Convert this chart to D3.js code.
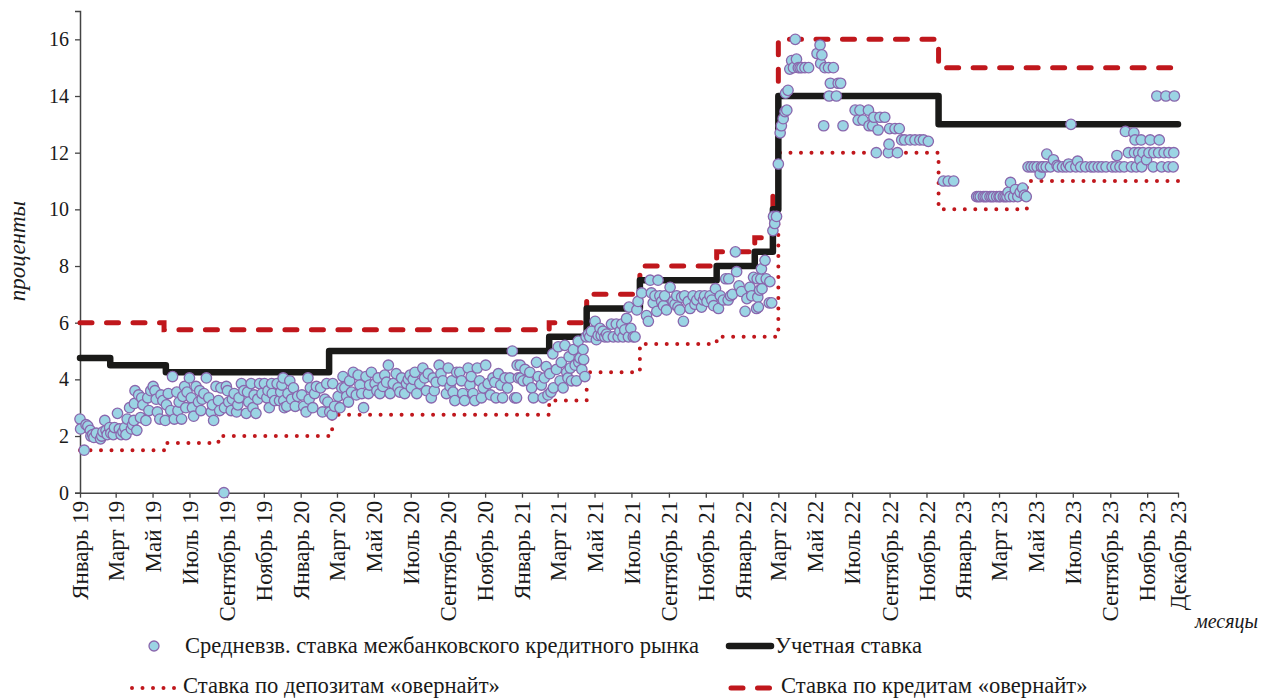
<!DOCTYPE html>
<html>
<head>
<meta charset="utf-8">
<script src="https://cdn.jsdelivr.net/npm/d3@7/dist/d3.min.js"></script>
<style>
  body { margin: 0; background: #fff; }
  text { font-family: "Liberation Serif", "Times New Roman", serif; fill: #1a1a1a; }
</style>
</head>
<body>
<script>
// --- data ---
var tickDates = ["2019-01-01","2019-03-01","2019-05-01","2019-07-01","2019-09-01","2019-11-01",
  "2020-01-01","2020-03-01","2020-05-01","2020-07-01","2020-09-01","2020-11-01",
  "2021-01-01","2021-03-01","2021-05-01","2021-07-01","2021-09-01","2021-11-01",
  "2022-01-01","2022-03-01","2022-05-01","2022-07-01","2022-09-01","2022-11-01",
  "2023-01-01","2023-03-01","2023-05-01","2023-07-01","2023-09-01","2023-11-01","2023-12-22"];
var tickLabels = ["Январь 19","Март 19","Май 19","Июль 19","Сентябрь 19","Ноябрь 19",
  "Январь 20","Март 20","Май 20","Июль 20","Сентябрь 20","Ноябрь 20",
  "Январь 21","Март 21","Май 21","Июль 21","Сентябрь 21","Ноябрь 21",
  "Январь 22","Март 22","Май 22","Июль 22","Сентябрь 22","Ноябрь 22",
  "Январь 23","Март 23","Май 23","Июль 23","Сентябрь 23","Ноябрь 23","Декабрь 23"];
var yTicks = [0, 2, 4, 6, 8, 10, 12, 14, 16];
var startDate = "2019-01-01", endDate = "2023-12-22";

// step series: [date of change, value]
var discountRate = [["2019-01-01",4.75],["2019-02-20",4.5],["2019-05-23",4.25],["2020-02-17",5.0],
  ["2021-02-15",5.5],["2021-04-18",6.5],["2021-07-15",7.5],["2021-11-19",8.0],["2022-01-21",8.5],
  ["2022-02-20",10.0],["2022-03-01",14.0],["2022-11-21",13.0]];
var depositRate = [["2019-01-01",1.5],["2019-05-20",1.75],["2019-08-18",2.0],["2020-02-22",2.75],
  ["2021-02-15",3.25],["2021-04-18",4.25],["2021-07-15",5.25],["2021-11-19",5.5],["2022-03-01",12.0],
  ["2022-11-21",10.0],["2023-04-16",11.0]];
var creditRate = [["2019-01-01",6.0],["2019-05-20",5.75],["2021-02-15",6.0],["2021-04-18",7.0],
  ["2021-07-15",8.0],["2021-11-19",8.5],["2022-01-21",9.0],["2022-02-20",10.5],["2022-03-01",16.0],
  ["2022-11-21",15.0]];

// interbank weighted average rate: [date, value]
var rates2019 = [["2019-01-01",2.6],["2019-01-02",2.25],["2019-01-08",1.5],["2019-01-11",2.4],["2019-01-14",2.35],
  ["2019-01-18",2.2],["2019-01-19",2.0],["2019-01-22",2.05],["2019-01-24",1.95],["2019-01-28",2.1],
  ["2019-02-04",1.9],["2019-02-06",2.0],["2019-02-08",2.15],["2019-02-11",2.55],["2019-02-13",2.2],["2019-02-15",2.05],
  ["2019-02-19",2.3],["2019-02-21",2.1],["2019-02-25",2.05],["2019-02-27",2.3],["2019-03-04",2.8],["2019-03-07",2.25],
  ["2019-03-10",2.05],["2019-03-13",2.15],["2019-03-16",2.3],["2019-03-18",2.05],["2019-03-20",2.6],["2019-03-24",3.0],
  ["2019-03-27",2.25],["2019-03-29",2.4],["2019-03-31",2.55],
  ["2019-04-01",3.15],["2019-04-02",3.6],["2019-04-05",2.2],["2019-04-08",3.45],["2019-04-11",2.65],["2019-04-13",3.35],
  ["2019-04-15",3.1],["2019-04-20",2.55],["2019-04-23",3.35],["2019-04-25",2.9],["2019-04-28",3.6],["2019-05-02",3.75],
  ["2019-05-05",3.6],["2019-05-07",3.3],["2019-05-09",2.85],["2019-05-13",2.6],["2019-05-15",3.45],["2019-05-18",3.25],
  ["2019-05-22",2.55],["2019-05-24",3.1],["2019-05-27",3.5],["2019-05-31",2.9],
  ["2019-06-03",4.1],["2019-06-06",2.6],["2019-06-10",3.55],["2019-06-12",2.9],["2019-06-14",3.2],["2019-06-18",2.6],
  ["2019-06-20",3.4],["2019-06-23",3.75],["2019-06-25",3.0],["2019-06-27",3.55],["2019-07-01",4.05],["2019-07-04",3.35],
  ["2019-07-06",3.0],["2019-07-08",2.7],["2019-07-12",3.75],["2019-07-16",3.2],["2019-07-18",3.6],["2019-07-20",2.9],
  ["2019-07-22",3.3],["2019-07-25",3.5],["2019-07-29",4.05],
  ["2019-08-02",3.35],["2019-08-06",2.85],["2019-08-08",3.1],["2019-08-10",2.55],["2019-08-14",3.75],["2019-08-18",3.25],
  ["2019-08-20",2.9],["2019-08-22",3.7],["2019-08-27",0],["2019-08-28",3.0],["2019-08-31",3.75],["2019-09-02",3.6],
  ["2019-09-04",3.2],["2019-09-08",2.9],["2019-09-10",3.3],["2019-09-13",3.5],["2019-09-17",2.85],["2019-09-19",3.1],
  ["2019-09-21",3.35],["2019-09-25",3.85],["2019-09-29",3.6],
  ["2019-10-03",2.8],["2019-10-05",3.55],["2019-10-07",3.2],["2019-10-11",3.85],["2019-10-14",3.0],["2019-10-16",3.45],
  ["2019-10-19",2.8],["2019-10-22",3.3],["2019-10-25",3.85],["2019-10-29",3.5],["2019-11-02",3.85],["2019-11-06",3.35],
  ["2019-11-08",3.6],["2019-11-10",3.0],["2019-11-14",3.85],["2019-11-15",3.5],["2019-11-19",3.25],["2019-11-23",3.85],
  ["2019-11-27",3.25],["2019-11-29",3.55],["2019-12-01",3.8],["2019-12-03",4.05],["2019-12-04",3.25],["2019-12-05",3.0],
  ["2019-12-09",3.05],["2019-12-11",3.5],["2019-12-14",3.95],["2019-12-17",3.3],["2019-12-20",3.7],["2019-12-23",3.05],
  ["2019-12-27",3.4]];
var rates2020 = [["2020-01-03",3.45],["2020-01-06",3.05],["2020-01-10",2.85],["2020-01-13",4.05],["2020-01-15",3.3],
  ["2020-01-17",3.7],["2020-01-21",3.0],["2020-01-24",3.5],["2020-01-27",3.75],["2020-02-03",3.7],["2020-02-06",2.85],
  ["2020-02-10",3.3],["2020-02-13",3.85],["2020-02-15",3.2],["2020-02-18",2.85],["2020-02-22",2.75],["2020-02-23",3.85],
  ["2020-02-26",3.05],["2020-03-03",3.4],["2020-03-06",3.0],["2020-03-09",3.7],["2020-03-11",4.1],["2020-03-14",3.7],
  ["2020-03-17",3.4],["2020-03-20",3.2],["2020-03-22",3.95],["2020-03-25",3.55],["2020-03-28",4.25],
  ["2020-04-02",3.45],["2020-04-05",4.15],["2020-04-08",3.8],["2020-04-11",3.5],["2020-04-14",3.0],["2020-04-18",4.1],
  ["2020-04-22",3.5],["2020-04-24",3.8],["2020-04-27",4.25],["2020-05-03",3.85],["2020-05-06",3.6],["2020-05-08",4.05],
  ["2020-05-11",3.5],["2020-05-16",3.75],["2020-05-19",4.15],["2020-05-22",3.9],["2020-05-25",4.5],["2020-05-28",3.5],
  ["2020-06-02",3.85],["2020-06-07",4.2],["2020-06-10",3.7],["2020-06-13",3.55],["2020-06-16",4.05],["2020-06-21",3.5],
  ["2020-06-24",3.85],["2020-06-27",4.0],["2020-06-30",4.15],["2020-07-02",3.7],["2020-07-05",4.0],["2020-07-08",4.25],
  ["2020-07-11",3.5],["2020-07-16",3.85],["2020-07-21",4.4],["2020-07-24",4.05],["2020-07-27",3.6],["2020-07-30",4.2],
  ["2020-08-04",3.35],["2020-08-07",4.05],["2020-08-09",3.6],["2020-08-12",3.9],["2020-08-17",4.5],["2020-08-20",4.2],
  ["2020-08-23",3.95],["2020-08-29",3.5],["2020-09-01",4.4],["2020-09-04",3.75],["2020-09-07",3.95],["2020-09-09",3.55],
  ["2020-09-12",3.25],["2020-09-15",4.25],["2020-09-20",4.25],["2020-09-23",3.95],["2020-09-25",3.5],["2020-09-28",3.25],
  ["2020-10-04",4.4],["2020-10-07",3.8],["2020-10-09",4.1],["2020-10-12",3.5],["2020-10-15",3.25],["2020-10-19",4.4],
  ["2020-10-23",3.95],["2020-10-26",3.35],["2020-10-29",3.7],["2020-11-02",4.5],["2020-11-06",3.85],["2020-11-10",3.45],
  ["2020-11-14",4.05],["2020-11-17",3.9],["2020-11-19",3.35],["2020-11-23",4.2],["2020-11-27",3.8],["2020-11-30",3.35],
  ["2020-12-04",4.05],["2020-12-08",3.7],["2020-12-12",4.05],["2020-12-16",5.0],["2020-12-20",3.35],["2020-12-23",3.35],
  ["2020-12-24",4.5],["2020-12-26",4.05],["2020-12-29",4.5],["2020-12-30",4.05]];
var rates2021 = [["2021-01-03",3.95],["2021-01-06",4.35],["2021-01-11",3.95],["2021-01-14",4.25],["2021-01-17",3.7],
  ["2021-01-20",3.35],["2021-01-25",4.6],["2021-01-28",4.1],["2021-02-02",3.8],["2021-02-05",3.35],["2021-02-07",4.05],
  ["2021-02-10",4.45],["2021-02-13",3.45],["2021-02-16",4.2],["2021-02-18",3.55],["2021-02-21",4.9],["2021-02-22",3.7],
  ["2021-02-27",4.35],["2021-03-02",5.15],["2021-03-05",3.95],["2021-03-07",4.6],["2021-03-10",3.7],["2021-03-13",5.2],
  ["2021-03-16",4.25],["2021-03-18",4.05],["2021-03-20",4.8],["2021-03-22",4.4],["2021-03-24",3.95],["2021-03-27",5.05],
  ["2021-03-30",4.5],["2021-04-01",3.95],["2021-04-04",5.35],["2021-04-05",4.6],["2021-04-07",4.75],["2021-04-10",4.35],
  ["2021-04-12",5.05],["2021-04-13",4.7],["2021-04-15",4.1],["2021-04-17",5.5],["2021-04-21",5.6],["2021-04-23",5.5],
  ["2021-04-26",5.7],["2021-05-02",6.05],["2021-05-04",5.4],["2021-05-07",5.55],["2021-05-10",5.8],["2021-05-12",5.55],
  ["2021-05-15",5.7],["2021-05-18",5.5],["2021-05-21",5.6],["2021-05-23",5.5],["2021-05-29",5.95],
  ["2021-06-01",5.5],["2021-06-06",5.95],["2021-06-09",5.5],["2021-06-12",5.7],["2021-06-15",5.95],["2021-06-17",5.5],
  ["2021-06-20",5.75],["2021-06-23",6.15],["2021-06-26",5.5],["2021-06-27",6.55],["2021-06-30",5.8],["2021-07-04",5.5],
  ["2021-07-07",5.5],["2021-07-10",6.45],["2021-07-12",6.75],["2021-07-18",7.05],["2021-07-26",6.25],["2021-07-29",6.05],
  ["2021-08-01",7.5],["2021-08-03",7.05],["2021-08-06",6.7],["2021-08-09",6.95],["2021-08-12",6.4],["2021-08-14",7.5],
  ["2021-08-17",6.95],["2021-08-20",6.75],["2021-08-23",6.6],["2021-08-25",6.95],["2021-08-28",6.45],["2021-09-03",7.25],
  ["2021-09-08",6.75],["2021-09-11",6.65],["2021-09-14",6.95],["2021-09-16",6.55],["2021-09-19",6.45],["2021-09-22",6.9],
  ["2021-09-25",6.05],["2021-09-27",6.95],["2021-10-03",6.75],["2021-10-06",6.5],["2021-10-11",6.95],["2021-10-14",6.65],
  ["2021-10-17",6.8],["2021-10-22",6.95],["2021-10-25",6.55],["2021-10-28",6.8],["2021-10-30",6.95],["2021-11-03",6.75],
  ["2021-11-08",6.95],["2021-11-11",6.8],["2021-11-14",6.6],["2021-11-17",7.2],["2021-11-22",6.5],["2021-11-25",6.95],
  ["2021-11-30",6.8],["2021-12-04",7.55],["2021-12-08",6.8],["2021-12-09",7.55],["2021-12-12",6.95],["2021-12-15",7.0],
  ["2021-12-20",8.5],["2021-12-22",7.8],["2021-12-26",7.3],["2021-12-30",7.1]];
var rates2022 = [["2022-01-05",6.4],["2022-01-08",6.85],["2022-01-13",7.25],["2022-01-16",6.95],["2022-01-19",7.6],
  ["2022-01-24",6.5],["2022-01-25",7.55],["2022-01-26",6.9],["2022-01-27",6.55],["2022-01-29",7.15],["2022-01-31",7.55],
  ["2022-02-01",7.9],["2022-02-02",7.2],["2022-02-07",8.2],["2022-02-09",7.55],["2022-02-14",6.7],["2022-02-15",7.45],
  ["2022-02-18",6.7],["2022-02-20",9.25],["2022-02-21",9.75],["2022-02-23",9.5],["2022-02-26",9.75],["2022-03-01",11.6],
  ["2022-03-04",12.7],["2022-03-06",12.95],["2022-03-09",13.2],["2022-03-12",13.45],["2022-03-13",14.1],["2022-03-15",13.5],
  ["2022-03-17",14.2],["2022-03-20",14.95],["2022-03-23",15.25],["2022-03-26",15.0],["2022-03-29",16.0],["2022-03-31",15.3],
  ["2022-04-03",15.0],["2022-04-06",15.0],["2022-04-09",15.0],["2022-04-14",15.0],["2022-04-20",15.0],["2022-05-04",15.5],
  ["2022-05-09",15.8],["2022-05-10",15.15],["2022-05-12",15.45],["2022-05-15",12.95],["2022-05-17",15.0],["2022-05-23",15.0],
  ["2022-05-24",14.0],["2022-05-26",14.45],["2022-05-31",15.0],["2022-06-05",14.0],["2022-06-08",14.45],["2022-06-12",14.45],
  ["2022-06-16",12.95],["2022-07-06",13.5],["2022-07-11",13.15],["2022-07-14",13.5],["2022-07-19",13.15],["2022-07-28",13.5],
  ["2022-07-29",12.95],["2022-08-04",12.95],["2022-08-06",13.25],["2022-08-10",12.0],["2022-08-13",12.8],["2022-08-16",13.25],
  ["2022-08-24",13.25],["2022-08-30",12.0],["2022-08-31",12.3],["2022-09-01",12.85],["2022-09-10",12.85],["2022-09-14",12.0],
  ["2022-09-17",12.85],["2022-09-21",12.45],["2022-09-26",12.45],["2022-10-05",12.45],["2022-10-13",12.45],["2022-10-21",12.45],
  ["2022-10-27",12.45],["2022-11-04",12.4],["2022-11-29",11.0],["2022-12-07",11.0],["2022-12-16",11.0]];
var rates2023 = [["2023-01-23",10.45],["2023-01-26",10.45],["2023-01-29",10.45],["2023-02-03",10.45],["2023-02-06",10.45],
  ["2023-02-09",10.45],["2023-02-14",10.45],["2023-02-17",10.45],["2023-02-20",10.45],["2023-02-25",10.45],["2023-03-01",10.45],
  ["2023-03-03",10.45],["2023-03-08",10.45],["2023-03-11",10.45],["2023-03-14",10.45],["2023-03-16",10.6],["2023-03-19",10.45],
  ["2023-03-20",10.95],["2023-03-25",10.45],["2023-03-28",10.7],["2023-04-01",10.45],["2023-04-05",10.6],["2023-04-09",10.75],
  ["2023-04-12",10.5],["2023-04-15",10.45],["2023-04-18",11.5],["2023-04-23",11.5],["2023-04-28",11.5],["2023-05-03",11.5],
  ["2023-05-08",11.25],["2023-05-10",11.5],["2023-05-13",11.5],["2023-05-18",11.5],["2023-05-19",11.95],["2023-05-25",11.5],
  ["2023-05-30",11.75],["2023-06-05",11.55],["2023-06-07",11.5],["2023-06-14",11.5],["2023-06-20",11.5],["2023-06-24",11.6],
  ["2023-06-27",11.5],["2023-06-28",13.0],["2023-07-06",11.5],["2023-07-09",11.7],["2023-07-14",11.5],["2023-07-22",11.5],
  ["2023-07-31",11.5],["2023-08-05",11.5],["2023-08-12",11.5],["2023-08-18",11.5],["2023-08-25",11.5],["2023-09-04",11.5],
  ["2023-09-10",11.5],["2023-09-12",11.9],["2023-09-17",11.5],["2023-09-24",11.5],["2023-09-26",12.75],["2023-10-01",12.0],
  ["2023-10-06",11.5],["2023-10-10",12.7],["2023-10-11",12.0],["2023-10-12",12.45],["2023-10-14",11.5],["2023-10-18",12.0],
  ["2023-10-20",11.75],["2023-10-22",12.45],["2023-10-23",11.5],["2023-10-25",12.0],["2023-10-31",11.75],["2023-11-04",12.0],
  ["2023-11-06",12.45],["2023-11-11",11.5],["2023-11-12",12.0],["2023-11-17",14.0],["2023-11-20",12.0],["2023-11-21",12.45],
  ["2023-11-25",11.5],["2023-11-29",12.0],["2023-12-02",14.0],["2023-12-06",11.5],["2023-12-07",12.0],["2023-12-14",11.5],
  ["2023-12-15",12.0],["2023-12-16",14.0]];

var seriesNames = ["Средневзв. ставка межбанковского кредитного рынка", "Учетная ставка",
  "Ставка по депозитам «овернайт»", "Ставка по кредитам «овернайт»"];

// --- drawing ---
var W = 1261, H = 700;
var red = "#c0171c", dark = "#1a1a18", dotFill = "#9bd4e4", dotStroke = "#8a67ad";
var parse = d3.utcParse("%Y-%m-%d");

var svg = d3.select("body").append("svg")
    .attr("width", W)
    .attr("height", H);

var x = d3.scaleUtc()
    .domain([parse(startDate), parse(endDate)])
    .range([80, 1178]);
var y = d3.scaleLinear()
    .domain([0, 17])
    .range([492.7, 11]);

// y axis
var yAxis = svg.append("g")
    .attr("transform", "translate(80,0)")
    .call(d3.axisLeft(y).tickValues(yTicks).tickSize(5).tickPadding(6));
yAxis.select(".domain").attr("stroke", "#444").attr("stroke-width", 1.5);
yAxis.selectAll(".tick line").attr("stroke", "#444").attr("stroke-width", 1.3);
yAxis.selectAll(".tick text").style("font-size", "20px");

// x axis
var xAxis = svg.append("g")
    .attr("transform", "translate(0," + y(0) + ")")
    .call(d3.axisBottom(x)
      .tickValues(tickDates.map(parse))
      .tickFormat(function(d, i){ return tickLabels[i]; })
      .tickSize(5).tickSizeOuter(0));
xAxis.select(".domain").attr("stroke", "#444").attr("stroke-width", 1.5);
xAxis.selectAll(".tick line").attr("stroke", "#444").attr("stroke-width", 1.3);
xAxis.selectAll(".tick text")
    .style("font-size", "23px")
    .attr("text-anchor", "end")
    .attr("transform", "rotate(-90)")
    .attr("x", -8)
    .attr("y", 0)
    .attr("dy", "0.33em");

// step lines
function stepData(arr){
  var pts = arr.map(function(d){ return {date: parse(d[0]), value: d[1]}; });
  pts.push({date: parse(endDate), value: arr[arr.length - 1][1]});
  return pts;
}
var stepLine = d3.line()
    .x(function(d){ return x(d.date); })
    .y(function(d){ return y(d.value); })
    .curve(d3.curveStepAfter);

svg.append("path")
    .datum(stepData(creditRate))
    .attr("d", stepLine)
    .attr("fill", "none")
    .attr("stroke", red)
    .attr("stroke-width", 5)
    .attr("stroke-linecap", "round")
    .attr("stroke-dasharray", "12,14.5");

svg.append("path")
    .datum(stepData(depositRate))
    .attr("d", stepLine)
    .attr("fill", "none")
    .attr("stroke", red)
    .attr("stroke-width", 4)
    .attr("stroke-linecap", "round")
    .attr("stroke-dasharray", "0,10.5");

svg.append("path")
    .datum(stepData(discountRate))
    .attr("d", stepLine)
    .attr("fill", "none")
    .attr("stroke", dark)
    .attr("stroke-width", 6.5)
    .attr("stroke-linejoin", "round")
    .attr("stroke-linecap", "round");

// scatter
var rates = [].concat(rates2019, rates2020, rates2021, rates2022, rates2023);
svg.append("g").selectAll("circle")
    .data(rates)
    .enter().append("circle")
    .attr("cx", function(d){ return x(parse(d[0])); })
    .attr("cy", function(d){ return y(d[1]); })
    .attr("r", 5.2)
    .attr("fill", dotFill)
    .attr("stroke", dotStroke)
    .attr("stroke-width", 1.3);

// axis titles
svg.append("text")
    .attr("transform", "translate(25,251) rotate(-90)")
    .attr("text-anchor", "middle")
    .style("font-size", "23px")
    .style("font-style", "italic")
    .text("проценты");
svg.append("text")
    .attr("x", 1258)
    .attr("y", 628)
    .attr("text-anchor", "end")
    .style("font-size", "20px")
    .style("font-style", "italic")
    .text("месяцы");

// legend
var leg = svg.append("g").style("font-size", "22.6px");
leg.append("circle")
    .attr("cx", 154).attr("cy", 646).attr("r", 5)
    .attr("fill", dotFill).attr("stroke", dotStroke).attr("stroke-width", 1.3);
leg.append("text").attr("x", 185).attr("y", 653).text(seriesNames[0]);

leg.append("line")
    .attr("x1", 729).attr("x2", 771).attr("y1", 646).attr("y2", 646)
    .attr("stroke", dark).attr("stroke-width", 6.5).attr("stroke-linecap", "round");
leg.append("text").attr("x", 775).attr("y", 653).text(seriesNames[1]);

leg.append("line")
    .attr("x1", 132).attr("x2", 176).attr("y1", 688).attr("y2", 688)
    .attr("stroke", red).attr("stroke-width", 4).attr("stroke-linecap", "round")
    .attr("stroke-dasharray", "0,10.5");
leg.append("text").attr("x", 183).attr("y", 693).text(seriesNames[2]);

leg.append("line")
    .attr("x1", 731).attr("x2", 772).attr("y1", 688).attr("y2", 688)
    .attr("stroke", red).attr("stroke-width", 5).attr("stroke-linecap", "round")
    .attr("stroke-dasharray", "12,14.5");
leg.append("text").attr("x", 781).attr("y", 693).text(seriesNames[3]);
</script>
</body>
</html>
